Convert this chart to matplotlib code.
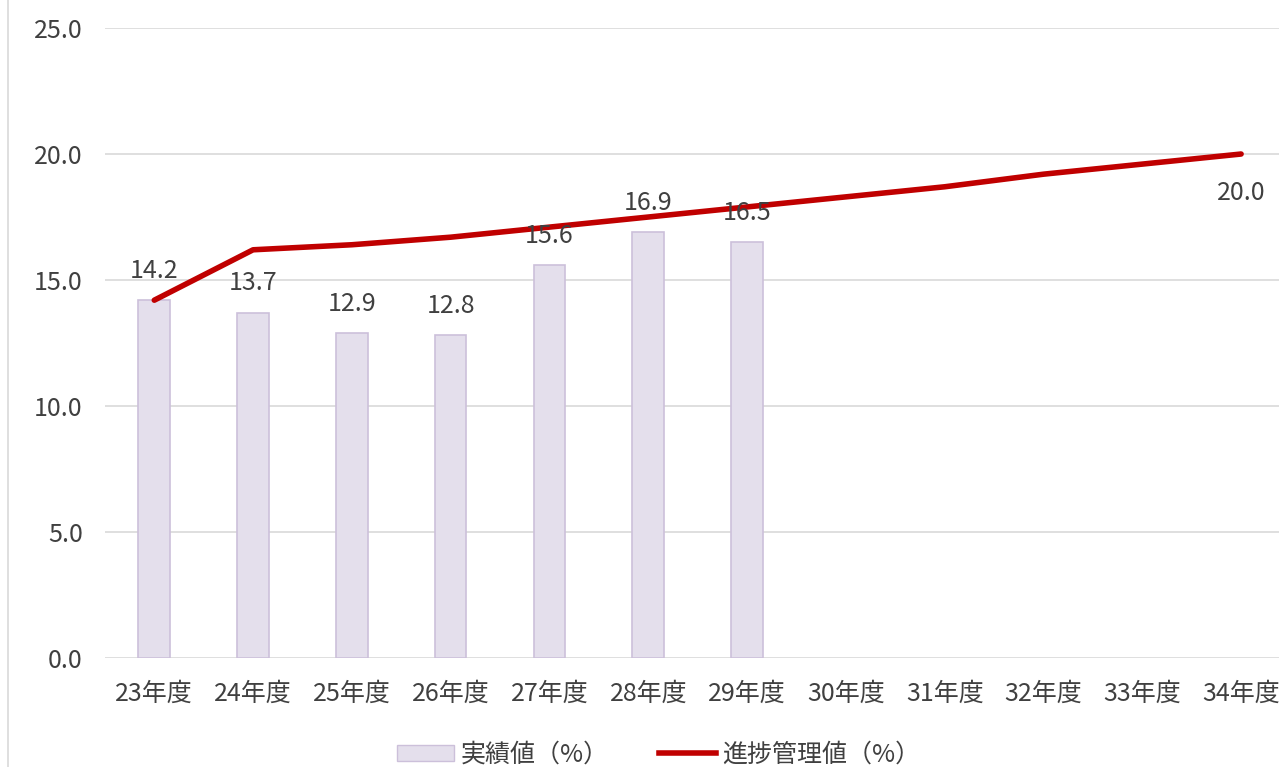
import numpy as np
import matplotlib.pyplot as plt
from matplotlib.lines import Line2D
from matplotlib.patches import Patch

plt.rcParams['font.family'] = ['Noto Sans CJK JP', 'DejaVu Sans']

years = ['23年度', '24年度', '25年度', '26年度', '27年度', '28年度',
         '29年度', '30年度', '31年度', '32年度', '33年度', '34年度']
actual = [14.2, 13.7, 12.9, 12.8, 15.6, 16.9, 16.5]
target = [14.2, 16.2, 16.4, 16.7, 17.1, 17.5, 17.9, 18.3, 18.7, 19.2, 19.6, 20.0]

text_col = '#404040'
grid_col = '#D9D9D9'
fs = 18

fig = plt.figure(figsize=(12.79, 7.67), dpi=100)
ax = fig.add_axes([0.082, 0.142, 0.927, 0.8215])

x = np.arange(len(years))
ax.bar(x[:len(actual)], actual, width=0.32, color='#E4DFEC',
       edgecolor='#CCC0DA', linewidth=1.2, zorder=2)
ax.plot(x, target, color='#C00000', linewidth=4, solid_capstyle='round', zorder=3)

# data labels
for i, v in enumerate(actual):
    ax.text(x[i], v + 0.65, f'{v:.1f}', ha='center', va='bottom',
            fontsize=fs, color=text_col, zorder=4)
ax.text(x[-1], target[-1] - 1.55, f'{target[-1]:.1f}', ha='center', va='center',
        fontsize=fs, color=text_col, zorder=4)

ax.set_xlim(-0.5, len(years) - 0.5)
ax.set_ylim(0, 25)
ax.set_yticks(np.arange(0, 26, 5))
ax.set_yticklabels([f'{t:.1f}' for t in np.arange(0, 26, 5)])
ax.set_xticks(x)
ax.set_xticklabels(years)
ax.tick_params(axis='both', length=0, labelsize=fs, colors=text_col)
ax.tick_params(axis='y', pad=16)
ax.tick_params(axis='x', pad=16)
ax.grid(axis='y', color=grid_col, linewidth=1.2, zorder=0)
ax.set_axisbelow(True)
for s in ax.spines.values():
    s.set_visible(False)

handles = [Patch(facecolor='#E4DFEC', edgecolor='#CCC0DA', label='実績値（%）'),
           Line2D([0], [0], color='#C00000', linewidth=4, label='進捗管理値（%）')]
fig.legend(handles=handles, loc='center', bbox_to_anchor=(0.515, 0.016),
           ncol=2, frameon=False, fontsize=fs, labelcolor=text_col,
           handlelength=2.3, handleheight=0.6, handletextpad=0.25,
           columnspacing=2.0)

# chart area border on the left
fig.add_artist(Line2D([0.0065, 0.0065], [0, 1], color=grid_col, linewidth=1.2))

fig.savefig('out.png', dpi=100)
